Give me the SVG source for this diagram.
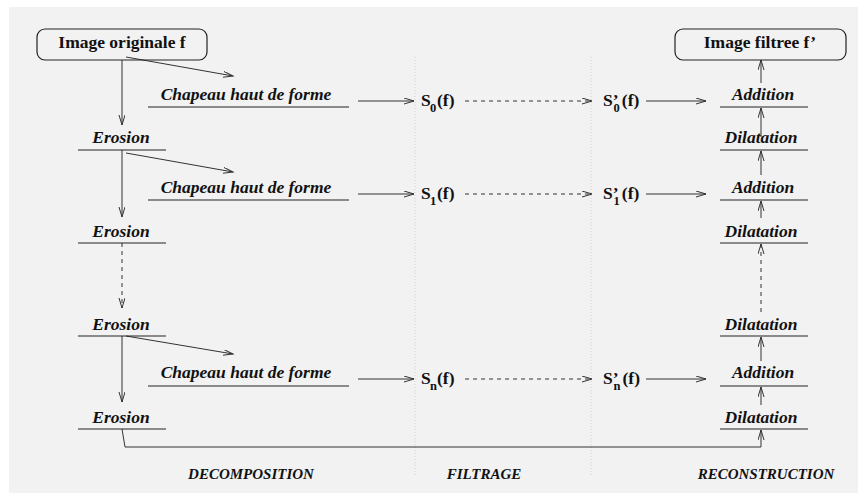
<svg xmlns="http://www.w3.org/2000/svg" width="858" height="495" viewBox="0 0 858 495">
<style>
.bg{fill:#f2f2f2}
.box{fill:none;stroke:#222;stroke-width:1.2}
text{font-family:"Liberation Serif","Times New Roman","DejaVu Serif",serif;font-weight:bold;fill:#111}
.t{font-size:17.5px}
.ti{font-style:italic;font-size:17.5px}
.lab{font-style:italic;font-size:15px}
.sub{font-size:12.5px}
.ul{stroke:#222;stroke-width:1.2}
.c{fill:none;stroke:#333;stroke-width:1}
.d{fill:none;stroke:#333;stroke-width:1;stroke-dasharray:4 4}
.sep{stroke:#cfcfcf;stroke-width:1;stroke-dasharray:1 2}
</style>
<defs>
<marker id="ah" markerWidth="12" markerHeight="8" refX="10" refY="3" orient="auto" markerUnits="userSpaceOnUse">
<path d="M0,0 L10,3 L0,6" fill="none" stroke="#333" stroke-width="1"/>
</marker>
</defs>
<rect class="bg" x="9" y="7" width="849" height="486"/>
<g id="separators">
<line class="sep" x1="415" y1="57" x2="415" y2="475"/>
<line class="sep" x1="591" y1="57" x2="591" y2="475"/>
</g>
<g id="connectors">
<line class="c" x1="122" y1="60" x2="122" y2="125" marker-end="url(#ah)"/>
<line class="c" x1="122" y1="150" x2="122" y2="217" marker-end="url(#ah)"/>
<line class="d" x1="122" y1="243" x2="122" y2="308" marker-end="url(#ah)"/>
<line class="c" x1="122" y1="336" x2="122" y2="402" marker-end="url(#ah)"/>
<polyline class="c" points="122,429 125,447 761,447 761,430" marker-end="url(#ah)"/>
<line class="c" x1="126" y1="57" x2="233" y2="76" marker-end="url(#ah)"/>
<line class="c" x1="126" y1="153" x2="233" y2="172" marker-end="url(#ah)"/>
<line class="c" x1="126" y1="336" x2="233" y2="354" marker-end="url(#ah)"/>
<line class="c" x1="358" y1="101" x2="414" y2="101" marker-end="url(#ah)"/>
<line class="c" x1="358" y1="194" x2="414" y2="194" marker-end="url(#ah)"/>
<line class="c" x1="358" y1="379" x2="414" y2="379" marker-end="url(#ah)"/>
<line class="d" x1="465" y1="101" x2="592" y2="101" marker-end="url(#ah)"/>
<line class="d" x1="465" y1="194" x2="592" y2="194" marker-end="url(#ah)"/>
<line class="d" x1="465" y1="379" x2="592" y2="379" marker-end="url(#ah)"/>
<line class="c" x1="646" y1="101" x2="706" y2="101" marker-end="url(#ah)"/>
<line class="c" x1="646" y1="194" x2="706" y2="194" marker-end="url(#ah)"/>
<line class="c" x1="646" y1="379" x2="706" y2="379" marker-end="url(#ah)"/>
<line class="c" x1="761" y1="83" x2="761" y2="60" marker-end="url(#ah)"/>
<line class="c" x1="761" y1="137" x2="761" y2="108" marker-end="url(#ah)"/>
<line class="c" x1="761" y1="175" x2="761" y2="151" marker-end="url(#ah)"/>
<line class="c" x1="761" y1="218" x2="761" y2="201" marker-end="url(#ah)"/>
<line class="d" x1="761" y1="312" x2="761" y2="244" marker-end="url(#ah)"/>
<line class="c" x1="761" y1="361" x2="761" y2="337" marker-end="url(#ah)"/>
<line class="c" x1="761" y1="405" x2="761" y2="387" marker-end="url(#ah)"/>
</g>
<g id="image-originale">
<rect class="box" x="37" y="29" width="170" height="31" rx="8"/>
<text class="t" x="122" y="48" text-anchor="middle">Image originale f</text>
</g>
<g id="image-filtree">
<rect class="box" x="675" y="29" width="171" height="31" rx="8"/>
<text class="t" x="760" y="48" text-anchor="middle">Image filtree f’</text>
</g>
<g id="erosion1"><text class="ti" x="121" y="143" text-anchor="middle">Erosion</text><line class="ul" x1="78" y1="150" x2="166" y2="150"/></g>
<g id="erosion2"><text class="ti" x="121" y="237" text-anchor="middle">Erosion</text><line class="ul" x1="78" y1="243" x2="166" y2="243"/></g>
<g id="erosion3"><text class="ti" x="121" y="330" text-anchor="middle">Erosion</text><line class="ul" x1="78" y1="336" x2="166" y2="336"/></g>
<g id="erosion4"><text class="ti" x="121" y="423" text-anchor="middle">Erosion</text><line class="ul" x1="78" y1="429" x2="166" y2="429"/></g>
<g id="chapeau1"><text class="ti" x="246" y="100" text-anchor="middle">Chapeau haut de forme</text><line class="ul" x1="148" y1="107" x2="349" y2="107"/></g>
<g id="chapeau2"><text class="ti" x="246" y="193" text-anchor="middle">Chapeau haut de forme</text><line class="ul" x1="148" y1="200" x2="349" y2="200"/></g>
<g id="chapeau3"><text class="ti" x="246" y="378" text-anchor="middle">Chapeau haut de forme</text><line class="ul" x1="148" y1="386" x2="349" y2="386"/></g>
<g id="s0"><text class="t" x="421" y="106">S</text><text class="sub" x="430" y="112">0</text><text class="t" x="437" y="106">(f)</text></g>
<g id="s1"><text class="t" x="421" y="199">S</text><text class="sub" x="430" y="205">1</text><text class="t" x="437" y="199">(f)</text></g>
<g id="sn"><text class="t" x="421" y="384">S</text><text class="sub" x="430" y="390">n</text><text class="t" x="437" y="384">(f)</text></g>
<g id="sp0"><text class="t" x="603" y="106">S’<tspan class="sub" dx="-5" dy="6">0</tspan><tspan dx="2" dy="-6">(f)</tspan></text></g>
<g id="sp1"><text class="t" x="603" y="199">S’<tspan class="sub" dx="-5" dy="6">1</tspan><tspan dx="2" dy="-6">(f)</tspan></text></g>
<g id="spn"><text class="t" x="603" y="384">S’<tspan class="sub" dx="-5" dy="6">n</tspan><tspan dx="2" dy="-6">(f)</tspan></text></g>
<g id="addition1"><text class="ti" x="763" y="100" text-anchor="middle">Addition</text><line class="ul" x1="720" y1="107" x2="808" y2="107"/></g>
<g id="dilatation1"><text class="ti" x="761" y="143" text-anchor="middle">Dilatation</text><line class="ul" x1="720" y1="150" x2="808" y2="150"/></g>
<g id="addition2"><text class="ti" x="763" y="193" text-anchor="middle">Addition</text><line class="ul" x1="720" y1="200" x2="808" y2="200"/></g>
<g id="dilatation2"><text class="ti" x="761" y="237" text-anchor="middle">Dilatation</text><line class="ul" x1="720" y1="243" x2="808" y2="243"/></g>
<g id="dilatation3"><text class="ti" x="761" y="330" text-anchor="middle">Dilatation</text><line class="ul" x1="720" y1="336" x2="808" y2="336"/></g>
<g id="addition3"><text class="ti" x="763" y="378" text-anchor="middle">Addition</text><line class="ul" x1="720" y1="386" x2="808" y2="386"/></g>
<g id="dilatation4"><text class="ti" x="761" y="423" text-anchor="middle">Dilatation</text><line class="ul" x1="720" y1="429" x2="808" y2="429"/></g>
<g id="labels">
<text class="lab" x="251" y="479" text-anchor="middle">DECOMPOSITION</text>
<text class="lab" x="484" y="479" text-anchor="middle">FILTRAGE</text>
<text class="lab" x="766" y="479" text-anchor="middle">RECONSTRUCTION</text>
</g>
</svg>
